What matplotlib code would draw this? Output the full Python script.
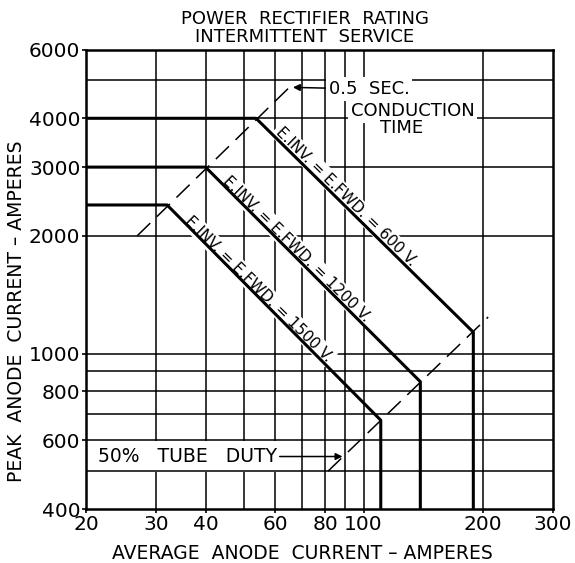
import numpy as np
import matplotlib
matplotlib.use("Agg")
import matplotlib.pyplot as plt
from matplotlib.ticker import FixedLocator, NullLocator, FixedFormatter

# rating curves (avg anode current, peak anode current)
c600_x = [20, 53.6, 189, 189]
c600_y = [4000, 4000, 1134, 400]
c1200_x = [20, 40, 139, 139]
c1200_y = [3000, 3000, 847, 400]
c1500_x = [20, 32, 110.5, 110.5]
c1500_y = [2400, 2400, 675, 400]

# dashed limit lines
cond_x = [26.9, 66.4]
cond_y = [2000, 4900]
duty_x = [81.4, 206]
duty_y = [500, 1240]

xgrid = [30, 40, 50, 60, 70, 80, 90, 100, 200]
ygrid = [500, 600, 700, 800, 900, 1000, 2000, 3000, 4000, 5000]
xticks = [20, 30, 40, 60, 80, 100, 200, 300]
yticks = [400, 600, 800, 1000, 2000, 3000, 4000, 6000]

plt.rcParams['font.family'] = ['DejaVu Sans']

fig = plt.figure(figsize=(5.75, 5.63), dpi=100)
ax = fig.add_axes([86/575, 1 - 509/563, 467/575, 459.5/563])
ax.set_xscale('log')
ax.set_yscale('log')
ax.set_xlim(20, 300)
ax.set_ylim(400, 6000)

for x in xgrid:
    ax.axvline(x, color='black', lw=1.1, zorder=1)
for y in ygrid:
    ax.axhline(y, color='black', lw=1.1, zorder=2.5)

for cx, cy in [(c600_x, c600_y), (c1200_x, c1200_y), (c1500_x, c1500_y)]:
    ax.plot(cx, cy, color='black', lw=2.2, zorder=5, solid_capstyle='butt')

ax.plot(cond_x, cond_y, color='black', lw=1.1, dashes=(12, 6), zorder=5)
ax.plot(duty_x, duty_y, color='black', lw=1.1, dashes=(12, 6), zorder=5)

ax.xaxis.set_major_locator(FixedLocator(xticks))
ax.xaxis.set_major_formatter(FixedFormatter([str(v) for v in xticks]))
ax.xaxis.set_minor_locator(NullLocator())
ax.yaxis.set_major_locator(FixedLocator(yticks))
ax.yaxis.set_major_formatter(FixedFormatter([str(v) for v in yticks]))
ax.yaxis.set_minor_locator(NullLocator())
ax.tick_params(labelsize=14.5, length=3, width=1.2, pad=1, colors='black')
for s in ax.spines.values():
    s.set_linewidth(1.8)

ax.set_xlabel('AVERAGE  ANODE  CURRENT – AMPERES', fontsize=13.5)
ax.set_ylabel('PEAK  ANODE  CURRENT – AMPERES', fontsize=13.5)
ax.xaxis.set_label_coords(0.4625, -0.077)
ax.yaxis.set_label_coords(-0.128, 0.43)
fig.text(305/575, 1 - 19/563, 'POWER  RECTIFIER  RATING', ha='center', va='center', fontsize=13)
fig.text(305/575, 1 - 37/563, 'INTERMITTENT  SERVICE', ha='center', va='center', fontsize=13)

# diagonal labels
white = dict(facecolor='white', edgecolor='none', pad=1.5)
labels = [('E.INV. = E.FWD. = 600 V.', 87.5, 214000 / 87.5),
          ('E.INV. = E.FWD. = 1200 V.', 65.7, 118000 / 65.7),
          ('E.INV. = E.FWD. = 1500 V.', 52.8, 75000 / 52.8)]
for txt, lx, ly in labels:
    ax.text(lx, ly, txt, rotation=-44.6, rotation_mode='anchor', ha='center', va='bottom',
            fontsize=11, bbox=white, zorder=4)

# 0.5 sec conduction time
tb = dict(facecolor='white', edgecolor='none', pad=2)
ax.annotate('0.5  SEC.', xy=(66.4, 4800), xytext=(81.8, 4750), fontsize=13,
            ha='left', va='center', bbox=tb, zorder=4,
            arrowprops=dict(arrowstyle='-|>', color='black', lw=1.1, mutation_scale=10,
                            shrinkA=0, shrinkB=0))
ax.text(133, 4175, 'CONDUCTION', ha='center', va='center', fontsize=13, bbox=tb, zorder=4)
ax.text(125, 3778, 'TIME', ha='center', va='center', fontsize=13, bbox=tb, zorder=4)

# 50% tube duty
ax.text(21.4, 545, '50%   TUBE   DUTY', ha='left', va='center', fontsize=13.5,
        bbox=dict(facecolor='white', edgecolor='none', pad=4.5), zorder=2)
ax.annotate('', xy=(88.5, 545), xytext=(61.5, 545),
            arrowprops=dict(arrowstyle='-|>', color='black', lw=1.1, mutation_scale=10,
                            shrinkA=0, shrinkB=0), zorder=5)

fig.savefig('out.png', dpi=100, facecolor='white')
